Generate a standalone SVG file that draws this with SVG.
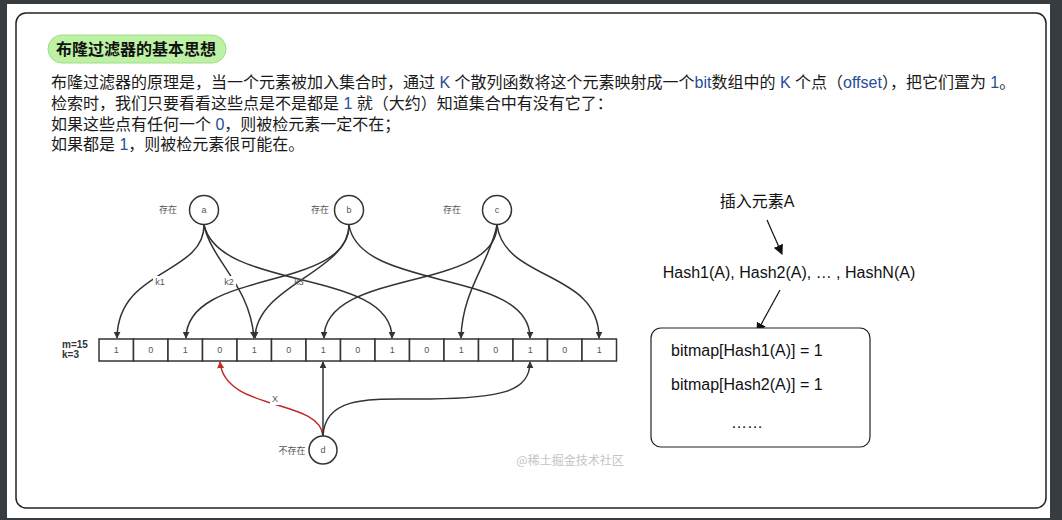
<svg xmlns="http://www.w3.org/2000/svg" width="1062" height="520" viewBox="0 0 1062 520">
<defs>
<style>
.para{font-family:"Liberation Sans","Noto Sans CJK SC",sans-serif;font-size:16px;fill:#1a1a1a}
.blue{fill:#1f4e9b}
.sm{font-family:"Liberation Sans","Noto Sans CJK SC",sans-serif;font-size:9px;fill:#555}
.mk{font-family:"Liberation Sans","Noto Sans CJK SC",sans-serif;font-size:10px;font-weight:bold;fill:#333}
.cell{fill:#fff;stroke:#333;stroke-width:1.5}
.node{fill:#fff;stroke:#333;stroke-width:1.5}
.edge{fill:none;stroke:#333;stroke-width:1.5}
.red{fill:none;stroke:#c0282a;stroke-width:1.5}
.rt{font-family:"Liberation Sans","Noto Sans CJK SC",sans-serif;font-size:16px;fill:#111}
</style>
<marker id="ah" viewBox="0 0 10 10" refX="9" refY="5" markerWidth="7" markerHeight="7" markerUnits="userSpaceOnUse" orient="auto"><path d="M0,0 L10,5 L0,10 z" fill="#333"/></marker>
<marker id="ahr" viewBox="0 0 10 10" refX="9" refY="5" markerWidth="7" markerHeight="7" markerUnits="userSpaceOnUse" orient="auto"><path d="M0,0 L10,5 L0,10 z" fill="#c0282a"/></marker>
<marker id="ahb" viewBox="0 0 10 10" refX="9" refY="5" markerWidth="10" markerHeight="10" markerUnits="userSpaceOnUse" orient="auto"><path d="M0,0 L10,5 L0,10 z" fill="#111"/></marker>
</defs>
<rect x="0" y="0" width="1062" height="520" fill="#373c41"/>
<rect x="7" y="4" width="1043" height="514" fill="#fff"/>
<rect x="16" y="13" width="1030" height="495" rx="10" fill="#fff" stroke="#222" stroke-width="1.5"/>

<g id="title">
<rect x="48" y="35" width="178" height="28" rx="14" fill="#bdf2a4" stroke="#a2dc88" stroke-width="1"/>
<text x="56" y="55" font-family="'Noto Sans CJK SC',sans-serif" font-size="16" font-weight="bold" fill="#111">布隆过滤器的基本思想</text>
</g>

<g id="paragraph" class="para">
<text x="51" y="88">布隆过滤器的原理是，当一个元素被加入集合时，通过 <tspan class="blue">K</tspan> 个散列函数将这个元素映射成一个<tspan class="blue">bit</tspan>数组中的 <tspan class="blue">K</tspan> 个点（<tspan class="blue">offset</tspan>），把它们置为 <tspan class="blue">1</tspan>。</text>
<text x="51" y="109">检索时，我们只要看看这些点是不是都是 <tspan class="blue">1</tspan> 就（大约）知道集合中有没有它了：</text>
<text x="51" y="130">如果这些点有任何一个 <tspan class="blue">0</tspan>，则被检元素一定不在；</text>
<text x="51" y="150">如果都是 <tspan class="blue">1</tspan>，则被检元素很可能在。</text>
</g>

<g id="bitarray">
<text class="mk" x="62" y="348">m=15</text>
<text class="mk" x="62" y="358">k=3</text>
<rect class="cell" x="99.0" y="339" width="34.5" height="22"/>
<rect class="cell" x="133.5" y="339" width="34.5" height="22"/>
<rect class="cell" x="168.0" y="339" width="34.5" height="22"/>
<rect class="cell" x="202.5" y="339" width="34.5" height="22"/>
<rect class="cell" x="237.0" y="339" width="34.5" height="22"/>
<rect class="cell" x="271.5" y="339" width="34.5" height="22"/>
<rect class="cell" x="306.0" y="339" width="34.5" height="22"/>
<rect class="cell" x="340.5" y="339" width="34.5" height="22"/>
<rect class="cell" x="375.0" y="339" width="34.5" height="22"/>
<rect class="cell" x="409.5" y="339" width="34.5" height="22"/>
<rect class="cell" x="444.0" y="339" width="34.5" height="22"/>
<rect class="cell" x="478.5" y="339" width="34.5" height="22"/>
<rect class="cell" x="513.0" y="339" width="34.5" height="22"/>
<rect class="cell" x="547.5" y="339" width="34.5" height="22"/>
<rect class="cell" x="582.0" y="339" width="34.5" height="22"/>
<g class="sm" text-anchor="middle">
<text x="116.3" y="353">1</text><text x="150.8" y="353">0</text><text x="185.3" y="353">1</text><text x="219.8" y="353">0</text><text x="254.3" y="353">1</text><text x="288.8" y="353">0</text><text x="323.3" y="353">1</text><text x="357.8" y="353">0</text><text x="392.3" y="353">1</text><text x="426.8" y="353">0</text><text x="461.3" y="353">1</text><text x="495.8" y="353">0</text><text x="530.3" y="353">1</text><text x="564.8" y="353">0</text><text x="599.3" y="353">1</text>
</g>
</g>

<g id="node-a"><circle class="node" cx="204" cy="210" r="14.5"/><text class="sm" x="204" y="213" text-anchor="middle">a</text><text class="sm" x="168" y="213" text-anchor="middle">存在</text></g>
<g id="node-b"><circle class="node" cx="349" cy="210" r="14.5"/><text class="sm" x="349" y="213" text-anchor="middle">b</text><text class="sm" x="320" y="213" text-anchor="middle">存在</text></g>
<g id="node-c"><circle class="node" cx="497" cy="210" r="14.5"/><text class="sm" x="497" y="213" text-anchor="middle">c</text><text class="sm" x="452" y="213" text-anchor="middle">存在</text></g>
<g id="node-d"><circle class="node" cx="323" cy="450" r="14"/><text class="sm" x="323" y="453" text-anchor="middle">d</text><text class="sm" x="292" y="454" text-anchor="middle">不存在</text></g>

<g id="connectors">
<path class="edge" d="M204,225 C204,275 118,268 117,338" marker-end="url(#ah)"/>
<path class="edge" d="M204,225 C212,262 250,285 254,338" marker-end="url(#ah)"/>
<path class="edge" d="M204,225 C220,292 392,268 392,338" marker-end="url(#ah)"/>
<path class="edge" d="M349,225 C349,292 187,268 186,338" marker-end="url(#ah)"/>
<path class="edge" d="M349,225 C349,272 256,285 255,338" marker-end="url(#ah)"/>
<path class="edge" d="M349,225 C360,292 530,268 530,338" marker-end="url(#ah)"/>
<path class="edge" d="M497,225 C497,292 324,268 324,338" marker-end="url(#ah)"/>
<path class="edge" d="M497,225 C490,262 462,290 461,338" marker-end="url(#ah)"/>
<path class="edge" d="M497,225 C505,282 599,270 599,338" marker-end="url(#ah)"/>
<path class="red" d="M323,436 C320,398 225,412 220,362" marker-end="url(#ahr)"/>
<path class="edge" d="M323,436 L323,362" marker-end="url(#ah)"/>
<path class="edge" d="M323,436 C325,392 380,400 430,399 C500,398 530,392 530,362" marker-end="url(#ah)"/>
<g class="sm">
<rect x="153" y="276" width="14" height="11" fill="#fff"/><text x="160" y="285" text-anchor="middle">k1</text>
<rect x="222" y="276" width="14" height="11" fill="#fff"/><text x="229" y="285" text-anchor="middle">k2</text>
<text x="299" y="285" text-anchor="middle">k3</text>
<rect x="270" y="394" width="10" height="11" fill="#fff"/><text x="275" y="402" text-anchor="middle">X</text>
</g>
<line x1="767" y1="220" x2="782" y2="254" stroke="#111" stroke-width="1.2" marker-end="url(#ahb)"/>
<line x1="780" y1="290" x2="757" y2="332" stroke="#111" stroke-width="1.2" marker-end="url(#ahb)"/>
</g>

<text x="570" y="465" font-family="'Noto Sans CJK SC',sans-serif" font-size="12" fill="#c4c4c4" text-anchor="middle">@稀土掘金技术社区</text>

<g id="insert-text"><text class="rt" x="757" y="207" text-anchor="middle">插入元素A</text></g>
<g id="hash-text"><text class="rt" x="789" y="278" text-anchor="middle">Hash1(A), Hash2(A), … , HashN(A)</text></g>
<g id="bitmap-box">
<rect x="651" y="328" width="219" height="119" rx="10" fill="#fff" stroke="#222" stroke-width="1.2"/>
<text class="rt" x="671" y="356">bitmap[Hash1(A)] = 1</text>
<text class="rt" x="671" y="390">bitmap[Hash2(A)] = 1</text>
<text class="rt" x="747" y="428" text-anchor="middle">……</text>
</g>
</svg>
